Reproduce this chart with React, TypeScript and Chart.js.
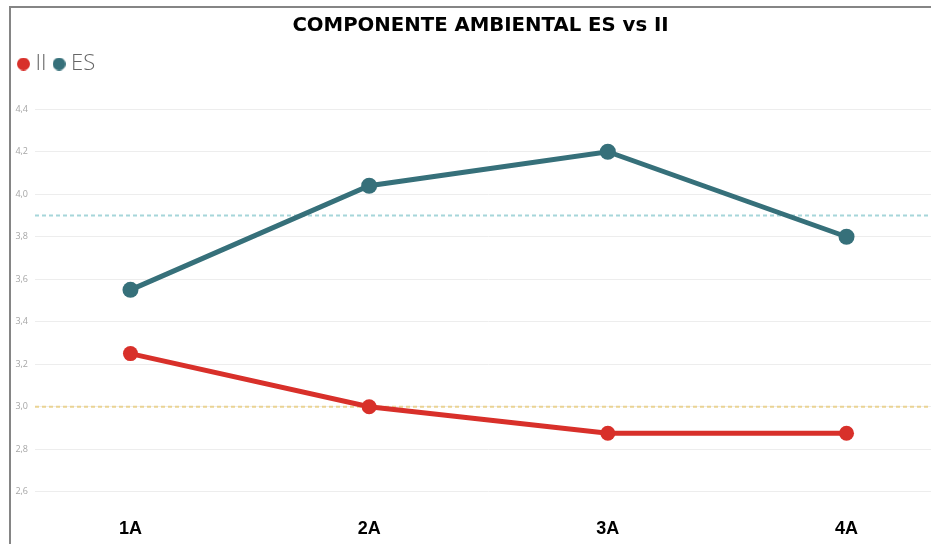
import React, { useEffect, useRef } from 'react';
import { Chart, registerables } from 'chart.js';

Chart.register(...registerables);

const categories = ['1A', '2A', '3A', '4A'];
const seriesII = [3.25, 3.0, 2.875, 2.875];
const seriesES = [3.55, 4.04, 4.2, 3.8];
const targetES = 3.9;
const targetII = 3.0;
const yTicks = [2.6, 2.8, 3.0, 3.2, 3.4, 3.6, 3.8, 4.0, 4.2, 4.4];
const seriesNames = ['II', 'ES'];

const RED = '#D8302A';
const TEAL = '#36707A';
const TEAL_LIGHT = '#A6D6DA';
const YELLOW_LIGHT = '#EAD393';

const X_MIN = -0.4;
const X_MAX = 3.4;

function makeDot(color: string, d: number) {
  const c = document.createElement('canvas');
  c.width = d;
  c.height = d;
  const g = c.getContext('2d')!;
  g.fillStyle = color;
  g.beginPath();
  g.arc(d / 2, d / 2, d / 2, 0, Math.PI * 2);
  g.fill();
  return c;
}

export default function App() {
  const ref = useRef<HTMLCanvasElement>(null);

  useEffect(() => {
    const dots = [makeDot(RED, 13), makeDot(TEAL, 13)];
    const toPts = (vals: number[]) => vals.map((v, i) => ({ x: i, y: v }));
    const refLine = (v: number) => [
      { x: X_MIN, y: v },
      { x: X_MAX, y: v },
    ];
    const chart = new Chart(ref.current!, {
      type: 'line',
      data: {
        datasets: [
          {
            label: seriesNames[0],
            data: toPts(seriesII),
            borderColor: RED,
            backgroundColor: RED,
            borderWidth: 5,
            pointRadius: 7.5,
            pointHoverRadius: 7.5,
            pointBackgroundColor: RED,
            pointBorderWidth: 0,
            tension: 0,
            xAxisID: 'x',
            yAxisID: 'y',
          },
          {
            label: seriesNames[1],
            data: toPts(seriesES),
            borderColor: TEAL,
            backgroundColor: TEAL,
            borderWidth: 5,
            pointRadius: 8,
            pointHoverRadius: 8,
            pointBackgroundColor: TEAL,
            pointBorderWidth: 0,
            tension: 0,
            xAxisID: 'x',
            yAxisID: 'y',
          },
          {
            label: 'ref ES',
            data: refLine(targetES),
            borderColor: TEAL_LIGHT,
            borderWidth: 2,
            borderDash: [4, 3],
            pointRadius: 0,
            xAxisID: 'x',
            yAxisID: 'y',
          },
          {
            label: 'ref II',
            data: refLine(targetII),
            borderColor: YELLOW_LIGHT,
            borderWidth: 2,
            borderDash: [4, 3],
            pointRadius: 0,
            xAxisID: 'x',
            yAxisID: 'y',
          },
        ],
      },
      options: {
        animation: false,
        responsive: false,
        maintainAspectRatio: false,
        layout: { padding: 0 },
        plugins: {
          tooltip: { enabled: false },
          title: {
            display: true,
            text: 'COMPONENTE AMBIENTAL ES vs II',
            color: '#000',
            font: { family: 'DejaVu Sans', size: 19.7, weight: 'bold' },
            padding: { top: 6, bottom: 3.86 },
          },
          legend: {
            display: true,
            position: 'top',
            align: 'start',
            labels: {
              usePointStyle: true,
              pointStyleWidth: 2,
              boxHeight: 13,
              padding: 11.5,
              color: '#666666',
              font: { family: 'Open Sans', size: 22, weight: '300' },
              generateLabels: (c: any) => {
                const items = (Chart.defaults.plugins.legend.labels as any).generateLabels(c);
                return items
                  .filter((it: any) => it.datasetIndex < 2)
                  .map((it: any) => ({ ...it, pointStyle: dots[it.datasetIndex], fontColor: '#666666' }));
              },
            },
          },
        },
        scales: {
          x: {
            type: 'linear',
            position: 'bottom',
            min: X_MIN,
            max: X_MAX,
            grid: { display: false, drawTicks: false },
            border: { display: false },
            afterBuildTicks: (axis: any) => {
              axis.ticks = categories.map((_, i) => ({ value: i }));
            },
            afterFit: (s: any) => {
              s.height = 31;
            },
            ticks: {
              padding: 5,
              autoSkip: false,
              maxRotation: 0,
              color: '#000',
              font: { family: 'Liberation Sans', size: 18, weight: 'bold' },
              callback: (v: any) => categories[Math.round(Number(v))] ?? '',
            },
          },
          gap: {
            type: 'linear',
            position: 'top',
            axis: 'x',
            display: true,
            grid: { display: false, drawTicks: false },
            border: { display: false },
            ticks: { display: false },
            afterFit: (s: any) => {
              s.height = 13.6;
            },
          },
          y: {
            type: 'linear',
            position: 'left',
            min: 2.5,
            max: 4.45,
            grid: { color: '#EDEDED', lineWidth: 1, drawTicks: false },
            border: { display: false },
            afterBuildTicks: (axis: any) => {
              axis.ticks = yTicks.map((v) => ({ value: v }));
            },
            afterFit: (s: any) => {
              s.width = 24;
            },
            ticks: {
              padding: 7,
              color: '#A6A6A6',
              font: { family: 'Open Sans', size: 9 },
              callback: (v: any) => Number(v).toFixed(1).replace('.', ','),
            },
          },
        },
      } as any,
    });
    return () => chart.destroy();
  }, []);

  return (
    <div
      style={{
        position: 'absolute',
        left: 9,
        top: 6,
        width: 922,
        height: 538,
        boxSizing: 'border-box',
        borderTop: '2px solid #858585',
        borderLeft: '2px solid #858585',
        overflow: 'hidden',
        background: '#fff',
      }}
    >
      <canvas ref={ref} width={939} height={536} style={{ display: 'block', width: 939, height: 536 }} />
    </div>
  );
}
